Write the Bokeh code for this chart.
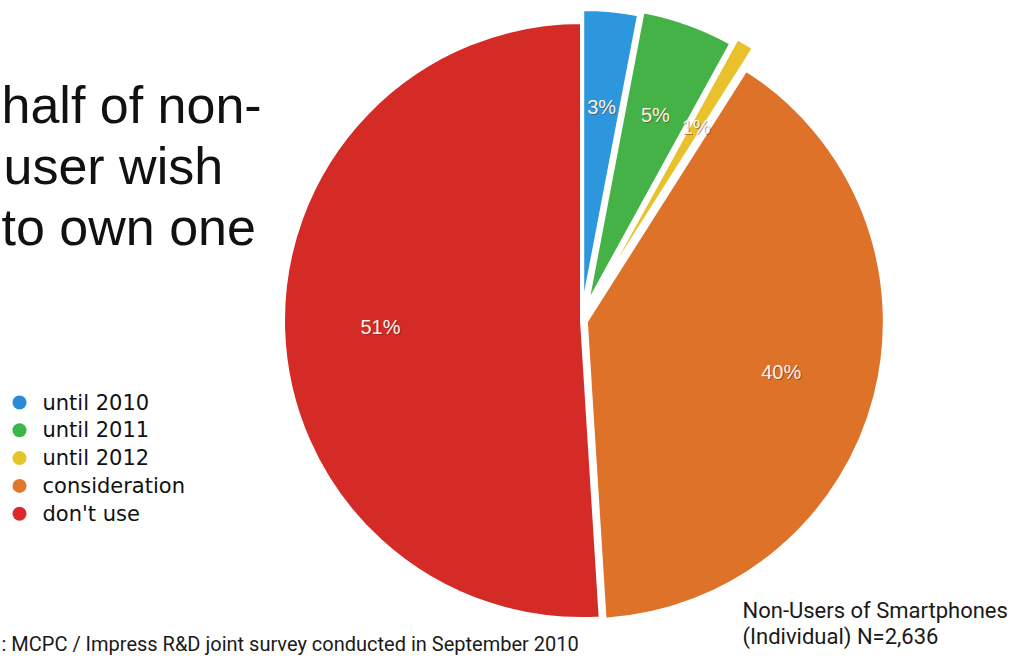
import math
from bokeh.plotting import figure
from bokeh.models import Range1d
from bokeh.core.properties import value
from bokeh.embed import file_html
from bokeh.resources import INLINE

# ---- data ----
categories = ["until 2010", "until 2011", "until 2012", "consideration", "don't use"]
shares = [3, 5, 1, 40, 51]
share_labels = ["3%", "5%", "1%", "40%", "51%"]
headline = ["half of non-", "user wish", "to own one"]
source_note = ": MCPC / Impress R&D joint survey conducted in September 2010"
sample_note = ["Non-Users of Smartphones", "(Individual) N=2,636"]

# ---- style ----
slice_colors = ["#2c97dc", "#44b246", "#e9c12c", "#dd7228", "#d42b27"]
legend_colors = ["#2a8ad8", "#3cb54a", "#e3c52a", "#e0782a", "#dc2a2a"]
explode = [13, 17, 24, 5, 0]

W, H = 1016, 656
p = figure(width=W, height=H, x_range=Range1d(0, W), y_range=Range1d(0, H),
           output_backend="svg", toolbar_location=None, min_border=0,
           x_axis_location=None, y_axis_location=None)
p.grid.visible = False
p.outline_line_color = None
p.background_fill_color = "white"
p.border_fill_color = "white"


def Y(ref_y):
    return H - ref_y


CX, CY, R = 581, Y(320), 298
total = float(sum(shares))

# clockwise from 12 o'clock
starts, ends, mids = [], [], []
acc = 0.0
for v in shares:
    a0 = acc / total * 360.0
    acc += v
    a1 = acc / total * 360.0
    starts.append(a0); ends.append(a1); mids.append((a0 + a1) / 2)

order = [4, 3, 0, 1, 2]
for i in order:
    m = math.radians(mids[i])
    cx = CX + explode[i] * math.sin(m)
    cy = CY + explode[i] * math.cos(m)
    p.wedge(x=[cx], y=[cy], radius=R, radius_units="screen",
            start_angle=math.radians(90 - ends[i]), end_angle=math.radians(90 - starts[i]),
            fill_color=slice_colors[i], line_color="white", line_width=3)

# percentage labels
lx, ly = [], []
for i in range(len(shares)):
    m = math.radians(mids[i])
    r = 0.675 * R + explode[i]
    lx.append(CX + r * math.sin(m))
    ly.append(CY + r * math.cos(m))
p.text(x=[x + 1 for x in lx], y=[y - 1 for y in ly], text=share_labels,
       text_font=value("Liberation Sans"), text_font_size="20px",
       text_align="center", text_baseline="middle", text_color="#5a1a10", text_alpha=0.45)
p.text(x=lx, y=ly, text=share_labels,
       text_font=value("Liberation Sans"), text_font_size="20px",
       text_align="center", text_baseline="middle", text_color="#fbf3ea")

# headline text
p.text(x=[1, 3, 1], y=[Y(104), Y(165), Y(226)], text=headline,
       text_font=value("Liberation Sans"), text_font_size="52px",
       text_align="left", text_baseline="middle", text_color="#111111")

# legend
lys = [Y(402 + i * 27.8) for i in range(len(categories))]
p.scatter(x=[19] * len(categories), y=lys, size=14, marker="circle",
          fill_color=legend_colors, line_color=None)
p.text(x=[42] * len(categories), y=lys, text=categories,
       text_font=value("DejaVu Sans"), text_font_size="21px",
       text_align="left", text_baseline="middle", text_color="#111111")

# notes
p.text(x=[1], y=[Y(643)], text=[source_note],
       text_font=value("Roboto"), text_font_size="20px",
       text_align="left", text_baseline="middle", text_color="#1a1a1a")
p.text(x=[742, 742], y=[Y(610), Y(636)], text=sample_note,
       text_font=value("Roboto"), text_font_size="22px",
       text_align="left", text_baseline="middle", text_color="#1a1a1a")

open("out.html", "w").write(file_html(p, INLINE))
